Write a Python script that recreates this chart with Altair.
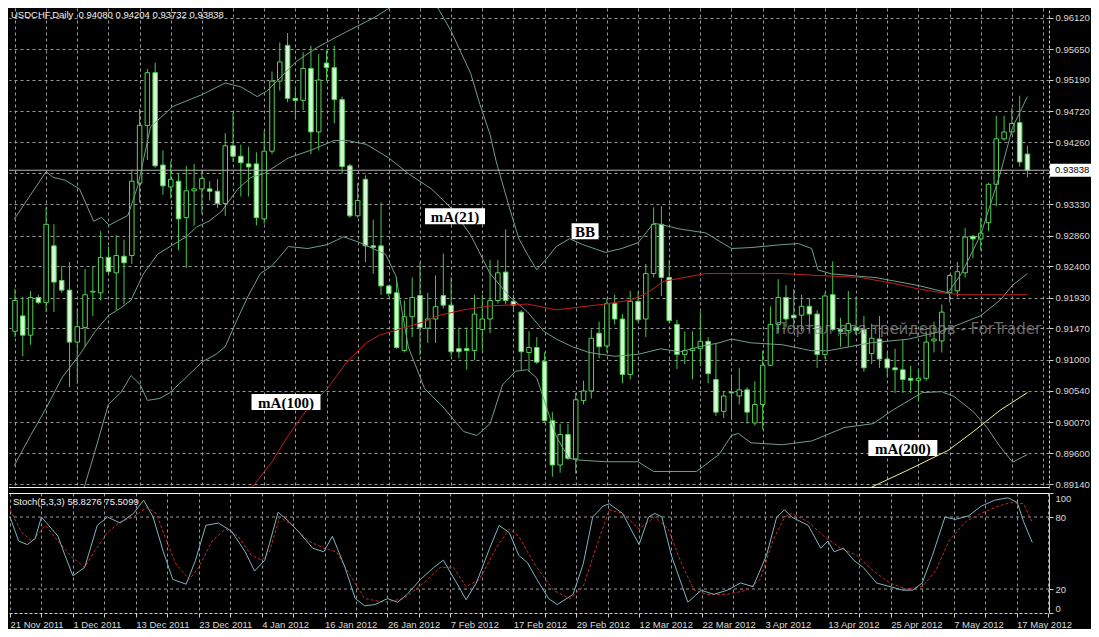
import altair as alt
import pandas as pd

# ---------------- data ----------------
OPEN = [0.91428,0.91658,0.91370,0.91934,0.91860,0.92707,0.92188,0.92044,0.91266,0.91486,
        0.92015,0.92004,0.92534,0.92303,0.92551,0.92562,0.93645,0.94509,0.95298,0.93916,
        0.93588,0.93674,0.93128,0.93530,0.93559,0.93559,0.93524,0.93340,0.94204,0.94048,
        0.93933,0.93933,0.93110,0.94123,0.95172,0.95707,0.94913,0.94884,0.95362,0.94411,
        0.95442,0.95373,0.94895,0.93904,0.93156,0.93703,0.92707,0.92707,0.92107,0.92004,
        0.91140,0.91646,0.91963,0.91474,0.91612,0.91963,0.91819,0.91168,0.91168,0.91140,
        0.91456,0.91612,0.91889,0.92314,0.91877,0.91715,0.91111,0.91186,0.90978,0.90091,
        0.89427,0.89884,0.89519,0.90391,0.90535,0.91399,0.91209,0.91842,0.91612,0.90782,
        0.91877,0.91612,0.92292,0.93029,0.92234,0.91531,0.91082,0.91140,0.91168,0.91278,
        0.90707,0.90230,0.90518,0.90460,0.90552,0.90057,0.90333,0.90921,0.91531,0.91934,
        0.91669,0.91669,0.91802,0.91686,0.91082,0.91975,0.91456,0.91439,0.91486,0.91456,
        0.91094,0.91312,0.91013,0.90881,0.90852,0.90724,0.90690,0.90724,0.91284,0.91284,
        0.92004,0.92032,0.92303,0.92850,0.92810,0.93052,0.93628,0.94308,0.94411,0.94550,
        0.94080]
HIGH = [0.92061,0.91946,0.92032,0.91975,0.93282,0.93029,0.92407,0.92465,0.91773,0.92361,
        0.92407,0.92925,0.92695,0.92868,0.92799,0.93847,0.94757,0.95356,0.95448,0.94135,
        0.93974,0.93789,0.93904,0.93933,0.93847,0.93674,0.93703,0.94394,0.94699,0.94221,
        0.94192,0.94106,0.94423,0.95316,0.95748,0.95892,0.95085,0.95604,0.95702,0.95575,
        0.95632,0.95702,0.94941,0.93933,0.93645,0.93760,0.93099,0.93357,0.92119,0.92234,
        0.91889,0.92234,0.92453,0.92004,0.92263,0.92591,0.92234,0.91486,0.91486,0.91975,
        0.91975,0.92494,0.92494,0.92954,0.91975,0.91744,0.91428,0.91341,0.91111,0.90218,
        0.90046,0.90046,0.90506,0.90690,0.91456,0.91572,0.91918,0.91975,0.91686,0.92032,
        0.92015,0.92436,0.93282,0.93300,0.92494,0.91600,0.91428,0.91428,0.91715,0.91341,
        0.91255,0.90535,0.90765,0.90881,0.90592,0.90679,0.91140,0.91802,0.92206,0.92119,
        0.92061,0.91975,0.91918,0.91744,0.92004,0.92476,0.91629,0.92032,0.91946,0.91658,
        0.91543,0.91658,0.91111,0.91168,0.91301,0.90910,0.90852,0.91428,0.91572,0.91831,
        0.92280,0.92465,0.92971,0.92868,0.93128,0.93645,0.94653,0.94653,0.94768,0.94953,
        0.94204]
LOW = [0.91341,0.91053,0.91226,0.91831,0.91715,0.91715,0.92004,0.90592,0.90650,0.91197,
       0.91658,0.91889,0.92292,0.91744,0.91831,0.92436,0.93357,0.93991,0.93876,0.93472,
       0.93415,0.92638,0.92378,0.93012,0.93185,0.93386,0.93271,0.93156,0.93962,0.93444,
       0.93444,0.93012,0.93040,0.94077,0.95028,0.94855,0.94596,0.94740,0.94077,0.94135,
       0.95172,0.94538,0.93789,0.93128,0.93128,0.92465,0.92292,0.91975,0.91946,0.91168,
       0.91111,0.91341,0.91071,0.91255,0.91255,0.91773,0.91053,0.91024,0.90852,0.90995,
       0.91140,0.91399,0.91842,0.91831,0.91715,0.90852,0.90823,0.90938,0.90074,0.89254,
       0.89312,0.89502,0.89300,0.90333,0.90420,0.91024,0.91111,0.91531,0.90650,0.90707,
       0.91572,0.91341,0.92234,0.91957,0.91554,0.90863,0.90938,0.90707,0.90910,0.90650,
       0.90160,0.90132,0.90103,0.90333,0.90046,0.90017,0.89959,0.90910,0.91399,0.91486,
       0.91486,0.91428,0.91428,0.90881,0.91024,0.91428,0.91197,0.91197,0.91370,0.90823,
       0.90938,0.90881,0.90736,0.90506,0.90506,0.90506,0.90379,0.90690,0.91111,0.91111,
       0.91860,0.91946,0.92234,0.92522,0.92638,0.92925,0.93300,0.94279,0.94365,0.93893,
       0.93732]
CLOSE = [0.91889,0.91370,0.91934,0.91860,0.93029,0.92165,0.92044,0.91266,0.91497,0.91975,
         0.92027,0.92534,0.92320,0.92562,0.92453,0.93674,0.94509,0.95298,0.93904,0.93605,
         0.93703,0.93110,0.93530,0.93559,0.93714,0.93524,0.93340,0.94204,0.94048,0.93950,
         0.93887,0.93128,0.94123,0.95172,0.95460,0.94913,0.94884,0.95362,0.94411,0.95189,
         0.95373,0.94895,0.93893,0.93156,0.93386,0.92707,0.92684,0.92107,0.91992,0.91186,
         0.91646,0.91934,0.91486,0.91612,0.91796,0.91819,0.91122,0.91122,0.91140,0.91686,
         0.91612,0.91889,0.92303,0.91889,0.91819,0.91122,0.91186,0.90967,0.90091,0.89427,
         0.89884,0.89527,0.90403,0.90535,0.91324,0.91197,0.91842,0.91612,0.90782,0.91877,
         0.91600,0.92292,0.93029,0.92234,0.91589,0.91082,0.91140,0.91168,0.91278,0.90794,
         0.90218,0.90460,0.90506,0.90552,0.90218,0.90333,0.90921,0.91531,0.91934,0.91612,
         0.91629,0.91802,0.91686,0.91082,0.91957,0.91456,0.91428,0.91543,0.91439,0.90881,
         0.91324,0.91013,0.90881,0.90852,0.90707,0.90696,0.90724,0.91266,0.91312,0.91715,
         0.92263,0.92320,0.92839,0.92810,0.92897,0.93628,0.94308,0.94411,0.94538,0.93962,
         0.93838]

DATE_LABELS = ["21 Nov 2011", "1 Dec 2011", "13 Dec 2011", "23 Dec 2011", "4 Jan 2012",
               "16 Jan 2012", "26 Jan 2012", "7 Feb 2012", "17 Feb 2012", "29 Feb 2012",
               "12 Mar 2012", "22 Mar 2012", "3 Apr 2012", "13 Apr 2012", "25 Apr 2012",
               "7 May 2012", "17 May 2012"]
PRICE_TICKS = [0.96120, 0.95650, 0.95190, 0.94720, 0.94260, 0.93790, 0.93330, 0.92860,
               0.92400, 0.91930, 0.91470, 0.91000, 0.90540, 0.90070, 0.89600, 0.89140]
HIDDEN_TICK = 0.93790
LAST_PRICE = 0.93838
STOCH_TICKS = [0, 20, 80, 100]
STOCH_LEVELS = [20, 80]

BB_UP_X = [-0.1, 4, 4.9, 6.5, 8.3, 10.1, 11.1, 12.1, 14.5, 15.8, 17.4, 20.3, 24, 27, 29, 31.1,
           32.4, 36.1, 38.9, 42.4, 46.1, 49.5, 52, 54.3, 56, 58.5, 59.7, 61, 61.8, 63.5, 64.7,
           65.8, 67, 68.3, 69.5, 71.2, 72.9, 75.8, 77.9, 80, 81.2, 82, 83.3, 85.4, 88.7, 92,
           94.5, 98.5, 100.6, 102.3, 103.1, 104.8, 110.6, 116, 119.8, 121.5, 124, 126.5, 128.1, 130]
BB_UP = [0.93104, 0.93818, 0.93731, 0.93687, 0.93556, 0.93075, 0.93133, 0.93017, 0.93162, 0.93614,
         0.94488, 0.94794, 0.94969, 0.95144, 0.95086, 0.94940, 0.95027, 0.95464, 0.95683, 0.95901,
         0.96120, 0.96370, 0.96400, 0.96266, 0.95920, 0.95290, 0.94823, 0.94372, 0.93964, 0.93272,
         0.92813, 0.92579, 0.92346, 0.92521, 0.92696, 0.92813, 0.92725, 0.92609, 0.92667, 0.92754,
         0.92929, 0.93046, 0.93017, 0.92958, 0.92900, 0.92667, 0.92681, 0.92725, 0.92740, 0.92667,
         0.92346, 0.92288, 0.92230, 0.92113, 0.92004, 0.92288, 0.92871, 0.93789, 0.94481, 0.94940]

BB_MID_X = [-0.1, 2, 4, 6.1, 8.3, 10.3, 12, 13.6, 14.9, 16.5, 18.3, 19.9, 22, 23.3, 24.9, 26.5,
            28.6, 30.3, 32, 35.1, 38, 41, 42.6, 45.1, 48, 50.5, 53.5, 56, 58.5, 61, 63.5, 65.8,
            67.9, 69.5, 71.6, 73.7, 77, 80, 82.9, 85.4, 87.9, 90.4, 92, 94.5, 98.5, 102.3, 104.4,
            109.8, 114.8, 118.9, 121.5, 124, 126.5, 128.1, 130]
BB_MID = [0.89418, 0.89869, 0.90277, 0.90744, 0.91079, 0.91428, 0.91662, 0.91778, 0.91895, 0.92288,
          0.92579, 0.92696, 0.92842, 0.92987, 0.93075, 0.93221, 0.93556, 0.93731, 0.93789, 0.94022,
          0.94138, 0.94284, 0.94284, 0.94226, 0.94022, 0.93789, 0.93556, 0.93272, 0.92871, 0.92292,
          0.91947, 0.91720, 0.91428, 0.91312, 0.91195, 0.91111, 0.91054, 0.91083, 0.91166, 0.91120,
          0.91198, 0.91255, 0.91312, 0.91255, 0.91227, 0.91137, 0.91137, 0.91254, 0.91312, 0.91428,
          0.91545, 0.91662, 0.91895, 0.92119, 0.92292]

BB_LOW_X = [7.5, 8.9, 10.3, 12, 13.6, 14.9, 16.1, 17, 18.6, 19.9, 21.5, 24, 25.8, 27, 28.3, 29.9,
            31.5, 33, 35.1, 37.6, 40.1, 42.2, 44.3, 47.6, 48.9, 50.5, 52.6, 55.1, 57.6, 59.3, 61,
            62.6, 64.3, 65.8, 67, 69.5, 71.1, 72, 75.8, 80, 82, 87.5, 90.4, 92, 92.9, 94.5, 98.5,
            102.3, 106.5, 110.2, 112.7, 114.8, 116.5, 119, 120.6, 123.1, 124.8, 126.5, 128.1, 130]
BB_LOW = [0.8875, 0.89097, 0.89644, 0.90336, 0.90511, 0.90766, 0.90627, 0.90394, 0.90423, 0.90511,
          0.90685, 0.90968, 0.91083, 0.91198, 0.91545, 0.91947, 0.92292, 0.92408, 0.92696, 0.92667,
          0.92725, 0.92842, 0.92754, 0.92579, 0.92259, 0.91195, 0.90569, 0.90277, 0.89928, 0.89869,
          0.90044, 0.90627, 0.90831, 0.90853, 0.90729, 0.89855, 0.89534, 0.89505, 0.89476, 0.89476,
          0.89330, 0.89330, 0.89585, 0.89869, 0.89899, 0.89759, 0.89730, 0.89787, 0.89989, 0.90046,
          0.90248, 0.90394, 0.90511, 0.90525, 0.90452, 0.90219, 0.89989, 0.89700, 0.89470, 0.89585]

MA100_X = [29.5, 33, 35.1, 37.6, 40.1, 42.6, 45.1, 46.8, 48.5, 50.1, 52.6, 54.3, 57.6, 61, 65.8,
           69.5, 75.8, 79.1, 81.2, 83.3, 88.7, 98.5, 103.1, 108.5, 112.7, 116, 119, 121.5, 130]
MA100 = [0.8895, 0.89476, 0.89869, 0.90277, 0.90569, 0.90968, 0.91254, 0.91370, 0.91428, 0.91487,
         0.91574, 0.91662, 0.91749, 0.91807, 0.91836, 0.91749, 0.91836, 0.91895, 0.92004, 0.92177,
         0.92292, 0.92292, 0.92263, 0.92234, 0.92148, 0.92062, 0.92004, 0.91975, 0.91975]

MA200_X = [109.0, 110, 114.8, 119.8, 123.1, 126.5, 130]
MA200 = [0.8900, 0.89097, 0.89360, 0.89644, 0.89931, 0.90248, 0.90511]

STOCH_K_X = [0, 1.1, 2.2, 3.2, 4, 6.1, 7, 8, 9.5, 11.1, 12.4, 14, 15.7, 17, 18.2, 19.5, 20.7, 22.4,
             23.6, 24.9, 26.5, 28.2, 29.9, 31.1, 32.4, 33, 34.1, 35.5, 36.8, 38.5, 39.9, 41, 42.6,
             43.9, 45.1, 46.4, 48, 49.3, 50.5, 52.2, 53.9, 55.1, 56.8, 58, 59.3, 61, 62.2, 63.5,
             64.7, 65.8, 67, 68.5, 69.6, 71.6, 72.9, 74.1, 75.4, 76.2, 77.9, 80, 81.2, 82, 82.9,
             84.1, 86.2, 87.9, 89.5, 91.2, 92.9, 94.5, 96.2, 97.5, 98.5, 99.4, 101.5, 103.1, 104,
             104.8, 106, 107.3, 108.5, 110.2, 111.9, 113.5, 114.8, 116, 117.3, 118.9, 120.2, 121.9,
             123.5, 125.2, 126.9, 128.1, 128.9, 130]
STOCH_K = [80, 60, 57, 62, 80, 64, 48, 31, 38, 73, 80, 75, 83, 94, 80, 51, 28, 24,
           44, 73, 75, 68, 51, 35, 44, 58, 84, 76, 67, 54, 51, 64, 38,
           12, 6, 7, 12, 9, 15.5, 28, 38, 44, 25, 11, 25, 54, 73, 67,
           48, 42, 28, 12, 7, 15.5, 41, 80, 89, 91, 83, 57, 80, 83, 80,
           48, 9, 19, 15.5, 19, 25, 22, 48, 80, 86, 80, 73, 54, 60,
           51, 54, 44, 38, 25, 22, 19, 19, 25, 48, 80, 78, 81,
           89, 94, 96, 92, 76, 58.8]
STOCH_D_X = [0, 1.5, 2.8, 4.5, 6.1, 7.8, 9.5, 10.7, 12.4, 14, 15.7, 17.4, 18.6, 19.9, 21.1, 22.8,
             24, 25.7, 27.4, 29, 30.7, 32, 33, 34.3, 35.9, 38, 39.9, 41.5, 43.2, 45.1, 47.6, 50.1,
             52.6, 54.7, 56.4, 58, 59.7, 61.8, 63.5, 64.7, 65.8, 67, 69.1, 71.2, 72.9, 74.5, 76.2,
             77.9, 80, 82, 83.7, 85.4, 87, 88.7, 91.2, 93.7, 95.4, 97, 98.5, 99.4, 101.5, 103.5,
             105.6, 107.7, 109.8, 111.9, 114, 116, 117.7, 119.4, 121.5, 123.5, 125.6, 127.3, 128.9, 130]
STOCH_D = [86, 67, 60, 73, 60, 47, 38, 51, 67, 76, 80, 88, 83, 60, 41, 28,
           38, 60, 70, 64, 48, 44, 51, 80, 73, 60, 54, 51, 32, 12, 9, 12,
           25, 38, 38, 22, 28, 54, 70, 64, 51, 38, 19, 12, 22, 54, 86,
           83, 70, 80, 70, 41, 19, 15.5, 15.5, 19, 28, 60, 80, 83, 76, 64,
           54, 48, 35, 25, 20, 22, 35, 60, 76, 83, 89, 92, 91, 75.5]

TAG_TEXT = ["mA(21)", "BB", "mA(100)", "mA(200)"]
TAG_BAR = [56.5, 73.2, 34.8, 114.0]
TAG_PRICE = [0.93150, 0.92925, 0.90370, 0.89680]
TAG_W = [60, 27, 69, 69]

TITLE = "USDCHF,Daily \u00a00.94080 0.94204 0.93732 0.93838"
STOCH_TITLE = "Stoch(5,3,3) 58.8276 75.5099"
WATERMARK = "Портал для трейдеров - ForTrader"
WM_BAR = 97.6
WM_PRICE = 0.91460

# ---------------- styling ----------------
W, H1, H2 = 1040, 480, 120
FONT = "Liberation Sans"
TXT = "#d8d8d8"
GRID = "#9a9a9a"
WICK = "#46c846"
BODY_STROKE = "#52d452"
BEAR_FILL = "#d4f8d4"
BAND = "#6f9f86"

xs = alt.Scale(domain=[-0.125, 132.125], nice=False, zero=False)
ys = alt.Scale(domain=[0.89083, 0.96266], nice=False, zero=False)
ys2 = alt.Scale(domain=[0, 100], nice=False, zero=False)

grid_bars = list(range(0, 133, 4))

x_axis_price = alt.Axis(values=grid_bars, grid=True, gridColor=GRID, gridDash=[3, 3],
                        gridWidth=1, labels=False, ticks=False, domain=False, title=None)
y_axis_price = alt.Axis(orient="right", values=PRICE_TICKS, title=None,
                        labelExpr=f"abs(datum.value - {HIDDEN_TICK}) < 0.000001 ? '' : format(datum.value, '.5f')",
                        grid=True, gridColor=GRID, gridDash=[3, 3], gridWidth=1,
                        tickColor="#d0d0d0", tickSize=4, labelColor=TXT, labelFont=FONT,
                        labelFontSize=9.5, labelPadding=2, domainColor="#c8c8c8",
                        domainDash=[3, 2], labelOverlap=False)

date_arr = "[" + ",".join(f"'{d}'" for d in DATE_LABELS) + "]"
x_axis_stoch = alt.Axis(values=grid_bars, grid=True, gridColor=GRID, gridDash=[3, 3], gridWidth=1,
                        labelExpr=f"datum.value % 8 == 0 ? {date_arr}[datum.value / 8] : ''",
                        labelAlign="left", labelPadding=2, labelColor=TXT, labelFont=FONT,
                        labelFontSize=9.5, tickColor="#d0d0d0", tickSize=4, domainColor="#d0d0d0",
                        domainDash=[3, 2], labelOverlap=False, labelFlush=False, title=None)
y_axis_stoch = alt.Axis(orient="right", values=STOCH_TICKS, grid=False, labelFlush=True,
                        tickColor="#d0d0d0", tickSize=4, labelColor=TXT, labelFont=FONT,
                        labelFontSize=9.5, labelPadding=2, domainColor="#c8c8c8", title=None,
                        labelOverlap=False)


def px(field):
    return alt.X(field, type="quantitative", scale=xs, axis=x_axis_price)


def py(field):
    return alt.Y(field, type="quantitative", scale=ys, axis=y_axis_price)


# ---------------- price panel ----------------
candles = pd.DataFrame({"bar": list(range(len(OPEN))), "open": OPEN, "high": HIGH,
                        "low": LOW, "close": CLOSE})

wicks = alt.Chart(candles).mark_rule(color=WICK, strokeWidth=1).encode(
    x=px("bar"), y=py("low"), y2="high")

bodies = alt.Chart(candles).mark_bar(size=4.5, stroke=BODY_STROKE, strokeWidth=1).encode(
    x=px("bar"), y=py("open"), y2="close",
    fill=alt.condition("datum.close < datum.open", alt.value(BEAR_FILL), alt.value("#000000")))


def line(xv, yv, color, width=1, dash=None):
    df = pd.DataFrame({"bx": xv, "val": yv})
    kw = dict(color=color, strokeWidth=width, clip=True)
    if dash:
        kw["strokeDash"] = dash
    return alt.Chart(df).mark_line(**kw).encode(x=px("bx"), y=py("val"))


bb_up = line(BB_UP_X, BB_UP, BAND)
bb_mid = line(BB_MID_X, BB_MID, BAND)
bb_low = line(BB_LOW_X, BB_LOW, BAND)
ma100 = line(MA100_X, MA100, "#c41e1e")
ma200 = line(MA200_X, MA200, "#f2f08a")

last_df = pd.DataFrame({"p": [LAST_PRICE], "t": [f"{LAST_PRICE:.5f}"]})
last_rule = alt.Chart(last_df).mark_rule(color="#b4b4b4", strokeWidth=1).encode(y=py("p"))
last_box = alt.Chart(last_df).mark_rect(color="white", yOffset=-6.5, y2Offset=6.5).encode(
    x=alt.value(W + 1), x2=alt.value(W + 42), y=py("p"), y2="p")
last_txt = alt.Chart(last_df).mark_text(align="left", baseline="middle", font=FONT,
                                         fontSize=9.5, color="black").encode(
    x=alt.value(W + 6), y=py("p"), text="t:N")

tag_layers = []
for t, b, p, w in zip(TAG_TEXT, TAG_BAR, TAG_PRICE, TAG_W):
    tdf = pd.DataFrame({"tb": [b], "tp": [p], "tt": [t]})
    box = alt.Chart(tdf).mark_rect(color="white", xOffset=-w / 2, x2Offset=w / 2,
                                   yOffset=-8, y2Offset=8).encode(
        x=px("tb"), x2="tb", y=py("tp"), y2="tp")
    txt = alt.Chart(tdf).mark_text(font="Liberation Serif", fontSize=15, fontWeight="bold",
                                   color="black", baseline="middle", align="center", dy=1).encode(
        x=px("tb"), y=py("tp"), text="tt:N")
    tag_layers += [box, txt]

wm_df = pd.DataFrame({"wb": [WM_BAR], "wp": [WM_PRICE], "wt": [WATERMARK]})
watermark = alt.Chart(wm_df).mark_text(align="left", baseline="middle", font="DejaVu Sans",
                                       fontSize=15, color="#8a8a8a", opacity=0.75).encode(
    x=px("wb"), y=py("wp"), text="wt:N")

title_df = pd.DataFrame({"t": [TITLE]})
title = alt.Chart(title_df).mark_text(align="left", baseline="top", font=FONT, fontSize=9.5,
                                      color="#f0f0f0").encode(
    x=alt.value(2), y=alt.value(2), text="t:N")

sep_df = pd.DataFrame({"s": [0]})
sep1 = alt.Chart(sep_df).mark_rule(color="#f0f0f0", strokeWidth=1).encode(
    x=alt.value(0), x2=alt.value(W), y=alt.value(H1 - 0.5))

price = alt.layer(wicks, bodies, bb_up, bb_mid, bb_low, ma100, ma200, last_rule,
                  *tag_layers, watermark, title, sep1, last_box, last_txt).properties(
    width=W, height=H1)

# ---------------- stochastic panel ----------------
def sx(field):
    return alt.X(field, type="quantitative", scale=xs, axis=x_axis_stoch)


def sy(field):
    return alt.Y(field, type="quantitative", scale=ys2, axis=y_axis_stoch)


k_df = pd.DataFrame({"kx": STOCH_K_X, "k": STOCH_K})
d_df = pd.DataFrame({"dx": STOCH_D_X, "d": STOCH_D})
lvl_df = pd.DataFrame({"lvl": STOCH_LEVELS})

levels = alt.Chart(lvl_df).mark_rule(color=GRID, strokeDash=[3, 3], strokeWidth=1).encode(
    y=sy("lvl"))
k_line = alt.Chart(k_df).mark_line(color="#7fb4be", strokeWidth=1, clip=True).encode(
    x=sx("kx"), y=sy("k"))
d_line = alt.Chart(d_df).mark_line(color="#c42a2a", strokeWidth=1, strokeDash=[3, 2],
                                   clip=True).encode(x=sx("dx"), y=sy("d"))
st_title = alt.Chart(pd.DataFrame({"t": [STOCH_TITLE]})).mark_text(
    align="left", baseline="top", font=FONT, fontSize=9.5, color="#f0f0f0").encode(
    x=alt.value(4), y=alt.value(4), text="t:N")
sep2 = alt.Chart(sep_df).mark_rule(color="#f0f0f0", strokeWidth=1).encode(
    x=alt.value(0), x2=alt.value(W), y=alt.value(0.5))

stoch = alt.layer(levels, d_line, k_line, st_title, sep2).properties(width=W, height=H2)

chart = alt.vconcat(price, stoch, spacing=3).properties(
    background="#000000", padding=0
).configure_view(stroke=None)

chart.save("out.html", embed_options={"renderer": "svg", "actions": False})
